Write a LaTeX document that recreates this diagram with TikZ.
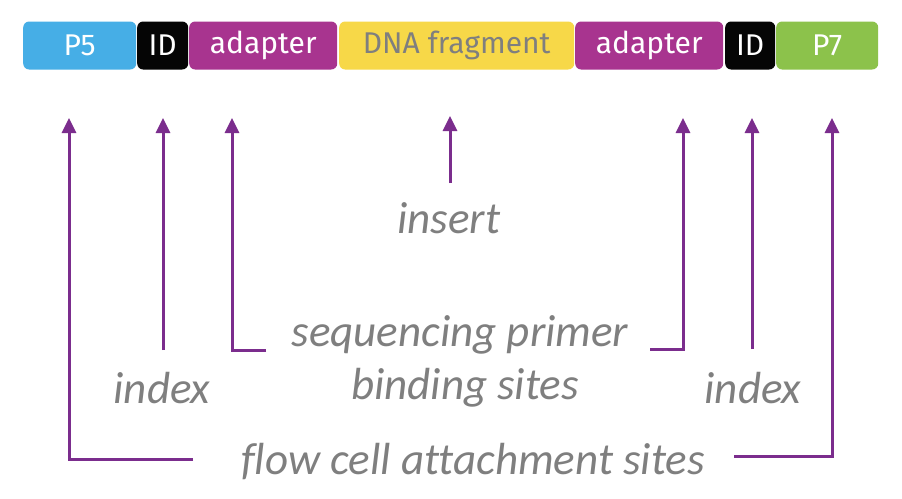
\documentclass[tikz,border=0pt]{standalone}
\usepackage{fontspec}
\setmainfont[Ligatures=NoCommon]{Carlito}
\newfontfamily\boxfont{Fira Sans}
\usetikzlibrary{arrows.meta}
\definecolor{cblue}{HTML}{46AEE6}
\definecolor{cpurple}{HTML}{A8348F}
\definecolor{cyellow}{HTML}{F7D848}
\definecolor{cgreen}{HTML}{8CC24B}
\definecolor{cblack}{HTML}{050505}
\definecolor{lblgray}{HTML}{7F7F7F}
\definecolor{linepurple}{HTML}{7B2D8D}
\begin{document}
\begin{tikzpicture}[x=1pt,y=-1pt,
  seg/.style={rounded corners=6pt, minimum height=48pt, inner sep=0pt, anchor=west,
    font=\boxfont\fontsize{30}{32}\selectfont, text=white},
  lbl/.style={font=\itshape\fontsize{45}{48}\selectfont, text=lblgray, inner sep=0pt},
  conn/.style={draw=linepurple, line width=3pt, -{Triangle[width=14pt,length=15pt]}}]
\useasboundingbox[fill=white] (0,0) rectangle (902,498);
% segments
\node[seg, fill=cblue,   minimum width=113pt] (p5)  at (23,45.5)  {P5};
\node[seg, fill=cblack,  minimum width=51pt]  (id1) at (137,45.5) {ID};
\node[seg, fill=cpurple, minimum width=148pt] (ad1) at (189,45.5) {adapter};
\node[seg, fill=cyellow, minimum width=235pt, text=lblgray] (dna) at (339,45.5) {DNA fragment};
\node[seg, fill=cpurple, minimum width=148pt] (ad2) at (575,45.5) {adapter};
\node[seg, fill=cblack,  minimum width=50pt]  (id2) at (725,45.5) {ID};
\node[seg, fill=cgreen,  minimum width=102pt] (p7)  at (776,45.5) {P7};
% labels
\node[lbl] (ins)  at (449,218) {insert};
\node[lbl] (seq)  at (460,335) {sequencing primer};
\node[lbl] (bind) at (465,388) {binding sites};
\node[lbl] (ixl)  at (162,388) {index};
\node[lbl] (ixr)  at (753,388) {index};
\node[lbl] (flow) at (473,462) {flow cell attachment sites};
% connector end points
\coordinate (tp5)  at (69,118);
\coordinate (tid1) at (163,118);
\coordinate (tad1) at (232,118);
\coordinate (tins) at (450,116);
\coordinate (tad2) at (683,118);
\coordinate (tid2) at (752,118);
\coordinate (tp7)  at (832,118);
\coordinate (sp5)  at (193,459);
\coordinate (sid1) at (163,350);
\coordinate (sad1) at (266,350);
\coordinate (sins) at (450,183);
\coordinate (sad2) at (650,349);
\coordinate (sid2) at (752,349);
\coordinate (sp7)  at (734,456);
% connectors
\draw[conn] (sp5) -| (tp5);
\draw[conn] (sid1) -- (tid1);
\draw[conn] (sad1) -| (tad1);
\draw[conn] (sins) -- (tins);
\draw[conn] (sad2) -| (tad2);
\draw[conn] (sid2) -- (tid2);
\draw[conn] (sp7) -| (tp7);
\end{tikzpicture}
\end{document}
